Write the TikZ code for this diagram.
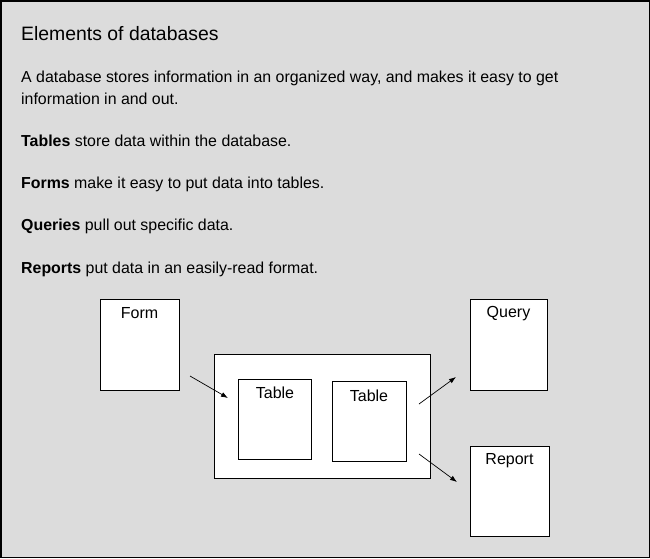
\documentclass[tikz,border=0pt]{standalone}
\usepackage{fontspec}
\setmainfont{Liberation Sans}
\usetikzlibrary{arrows.meta}
\definecolor{bg}{HTML}{DCDCDC}
\tikzset{
  box/.style={draw=black, fill=white, line width=0.9pt, anchor=north west, inner sep=0pt},
  lbl/.style={anchor=center, font=\fontsize{16}{16}\selectfont, inner sep=0pt},
  txt/.style={anchor=base west, inner sep=0pt, font=\fontsize{15.9}{15.9}\selectfont},
  arr/.style={line width=0.7pt, -{Latex[length=7pt,width=5pt]}}
}
\begin{document}
\begin{tikzpicture}[x=1pt,y=-1pt]
\path[use as bounding box] (0,0) rectangle (650,558);
\draw[fill=bg, line width=1.5pt] (0.75,0.75) rectangle (649.25,557.25);
% texts
\node[txt, font=\fontsize{19.4}{19.4}\selectfont] (title) at (21,40) {Elements of databases};
\node[txt] (p1a) at (21,82) {A database stores information in an organized way, and makes it easy to get};
\node[txt] (p1b) at (21,104) {information in and out.};
\node[txt] (p2) at (21,146) {\textbf{Tables} store data within the database.};
\node[txt] (p3) at (21,188) {\textbf{Forms} make it easy to put data into tables.};
\node[txt] (p4) at (21,230) {\textbf{Queries} pull out specific data.};
\node[txt] (p5) at (21,273) {\textbf{Reports} put data in an easily-read format.};
% boxes
\node[box, minimum width=79pt, minimum height=91pt] (form) at (100,299) {};
\node[box, minimum width=216pt, minimum height=124pt] (db) at (214,354) {};
\node[box, minimum width=73pt, minimum height=80pt] (t1) at (238,379) {};
\node[box, minimum width=74pt, minimum height=80pt] (t2) at (332,381) {};
\node[box, minimum width=77pt, minimum height=91pt] (query) at (470,299) {};
\node[box, minimum width=79pt, minimum height=90pt] (report) at (470,446) {};
% labels
\node[lbl] (formL) at (139.5,313) {Form};
\node[lbl] (t1L) at (275,393) {Table};
\node[lbl] (t2L) at (369,396) {Table};
\node[lbl] (queryL) at (508.5,314) {Query};
\node[lbl] (reportL) at (509.5,461) {Report};
% arrows
\coordinate (a1s) at (190,376);
\coordinate (a1e) at (228,398);
\coordinate (a2s) at (419,404);
\coordinate (a2e) at (456,377);
\coordinate (a3s) at (419,454);
\coordinate (a3e) at (457,482);
\draw[arr] (a1s) -- (a1e);
\draw[arr] (a2s) -- (a2e);
\draw[arr] (a3s) -- (a3e);
\end{tikzpicture}
\end{document}
